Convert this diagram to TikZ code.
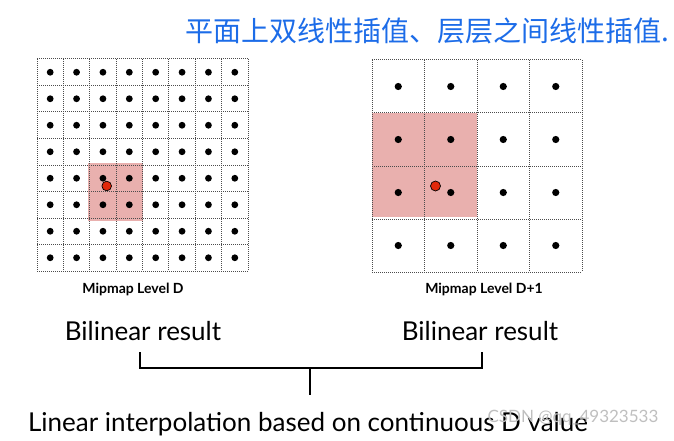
\documentclass[tikz,border=0pt]{standalone}
\usepackage{fontspec}
\setmainfont{Lato}
\newfontfamily\cjkhand{Noto Sans CJK SC}
\definecolor{cellpink}{RGB}{233,176,174}
\definecolor{probered}{RGB}{226,40,10}
\definecolor{noteblue}{RGB}{28,108,232}
\begin{document}
\begin{tikzpicture}[
  x = 1pt, y = -1pt,
  gridline/.style = {draw=black!70,line width=1pt,dash pattern=on 1pt off 1pt},
  probe/.style = {fill=probered,draw=black,line width=0.7pt},
  levellabel/.style = {font=\bfseries\fontsize{14}{14}\selectfont,inner sep=0pt,anchor=base},
  result/.style = {font=\fontsize{26}{26}\selectfont,inner sep=0pt,anchor=base},
  bracket/.style = {line width=1.4pt}
  ]
  \useasboundingbox (0,0) rectangle (674,441);
  \node[font=\cjkhand\fontsize{28}{28}\selectfont,text=noteblue,inner sep=0pt] (note) at (427,31) {平面上双线性插值、层层之间线性插值.};
  % level D
  \fill[cellpink] (88,163) rectangle (143,221);
  \foreach \i in {0,...,8} {
    \draw[gridline] (37+26.375*\i,59) -- (37+26.375*\i,271);
    \draw[gridline] (37,59+26.5*\i) -- (248,59+26.5*\i);
  }
  \foreach \i in {0,...,7}
    \foreach \j in {0,...,7}
      \fill (37+26.375*\i+13.19,59+26.5*\j+13.25) circle (3.4);
  \draw[probe] (106.7,186) circle (4.8);
  \node[levellabel] (lvlD) at (133,293.3) {Mipmap Level D};
  % level D+1
  \fill[cellpink] (372,113) rectangle (477,216.5);
  \foreach \i in {0,...,4} {
    \draw[gridline] (372+52.5*\i,60) -- (372+52.5*\i,272);
    \draw[gridline] (372,60+53*\i) -- (582,60+53*\i);
  }
  \foreach \i in {0,...,3}
    \foreach \j in {0,...,3}
      \fill (372+52.5*\i+26.25,60+53*\j+26.5) circle (3.6);
  \draw[probe] (435.5,186) circle (5);
  \node[levellabel] (lvlD1) at (484,293.3) {Mipmap Level D+1};
  % results
  \node[result] (resD) at (143,340.7) {Bilinear result};
  \node[result] (resD1) at (480,340.7) {Bilinear result};
  \node[result] (lerp) at (308,431.7) {Linear interpolation based on continuous D value};
  \coordinate (brL) at (140,352);
  \coordinate (brR) at (482,352);
  \coordinate (brM) at (310,368);
  \coordinate (stem) at (310,395);
  \draw[bracket] (brL) |- (brM) -| (brR);
  \draw[bracket] (brM) -- (stem);
  \node[font=\fontsize{17}{17}\selectfont,text=black!25,inner sep=0pt] (mark) at (573,418) {CSDN @qq\_49323533};
\end{tikzpicture}
\end{document}
